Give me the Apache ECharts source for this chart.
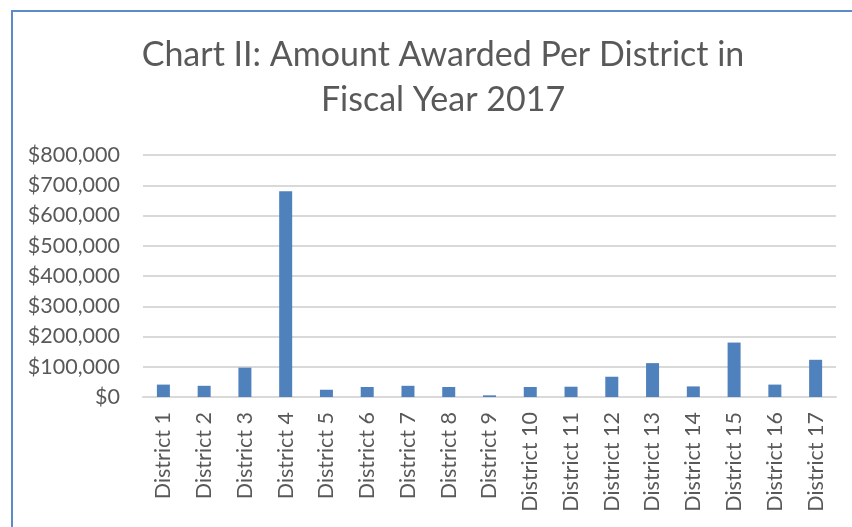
<!DOCTYPE html>
<html>
<head>
<meta charset="utf-8">
<script src="https://cdn.jsdelivr.net/npm/echarts@6/dist/echarts.min.js"></script>
<style>
html,body{margin:0;padding:0;background:#fff;}
#chart_main{position:absolute;left:0;top:0;width:852px;height:527px;}
#frame{position:absolute;left:11px;top:10px;width:841px;height:517px;border-left:2px solid #5b8cc8;border-top:2px solid #5b8cc8;pointer-events:none;}
</style>
</head>
<body>
<div id="chart_main"></div>
<div id="frame"></div>
<script>
var districts = ['District 1','District 2','District 3','District 4','District 5','District 6','District 7','District 8','District 9','District 10','District 11','District 12','District 13','District 14','District 15','District 16','District 17'];
var amounts = [41000, 37000, 97000, 680000, 24000, 33000, 37000, 33000, 5500, 33000, 34000, 67000, 112000, 35000, 180000, 41000, 123000];
var yTicks = [0, 800000, 100000];   // min, max, interval

var myChart = echarts.init(document.getElementById('chart_main'));
var option = {
	title: {
		text: 'Chart II: Amount Awarded Per District in\nFiscal Year 2017',
		left: 438,
		textAlign: 'center',
		top: 28,
		textStyle: {
			fontFamily: 'Lato',
			fontWeight: 'normal',
			fontSize: 34,
			lineHeight: 45,
			color: '#595959'
		}
	},
	grid: {   //图表边距
		left: 143,
		right: 16,
		top: 155,
		bottom: 130
	},
	xAxis: {
		type: 'category',
		data: districts,
		axisTick: {show: false},
		axisLine: {lineStyle: {color: '#d9d9d9', width: 2}},
		axisLabel: {
			interval: 0,
			rotate: 90,
			margin: 15,
			fontFamily: 'Lato',
			fontSize: 21.5,
			color: '#595959'
		}
	},
	yAxis: {
		type: 'value',
		min: yTicks[0],
		max: yTicks[1],
		interval: yTicks[2],
		axisLine: {show: false},
		axisTick: {show: false},
		splitLine: {lineStyle: {color: '#d9d9d9', width: 2}},
		axisLabel: {
			margin: 23,
			fontFamily: 'Lato',
			fontSize: 21.5,
			color: '#595959',
			formatter: function(v){
				return '$' + v.toLocaleString('en-US');
			}
		}
	},
	series: [{
		name: 'Amount',
		type: 'bar',
		data: amounts,
		barWidth: 13,
		itemStyle: {color: '#4f81bd'}
	}]
};
myChart.setOption(option);
</script>
</body>
</html>
